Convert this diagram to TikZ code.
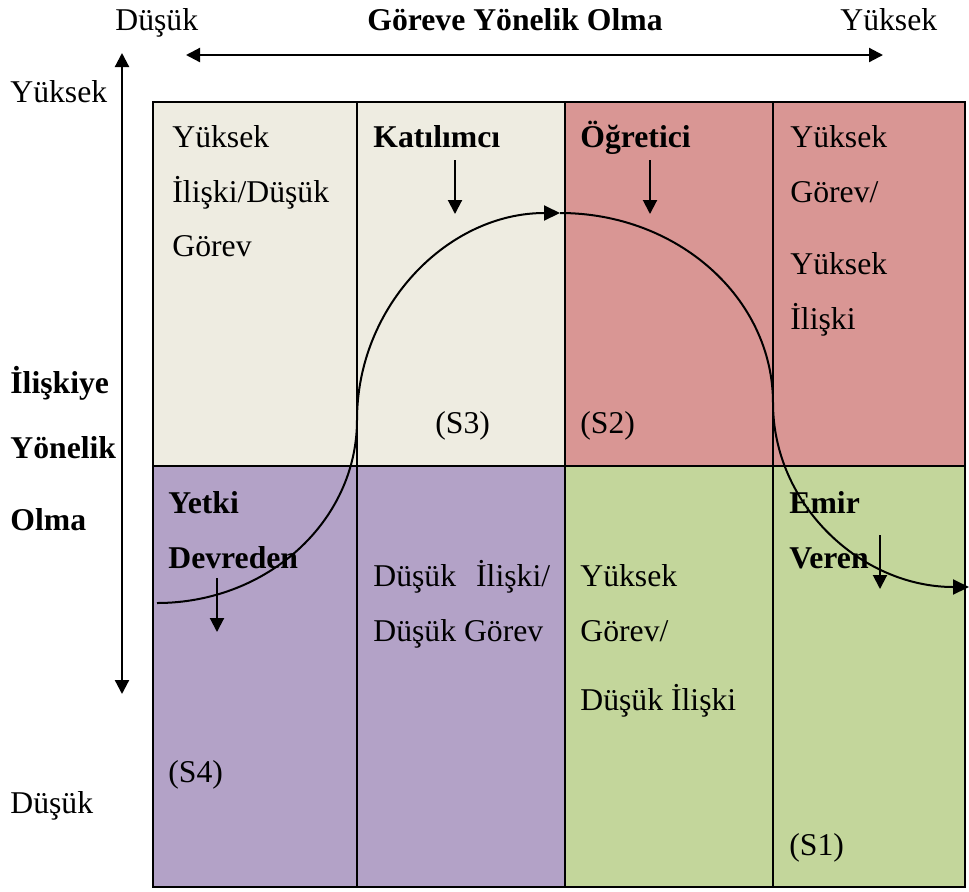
\documentclass[tikz,border=0pt]{standalone}
\usepackage{fontspec}
\setmainfont{Liberation Serif}
\usetikzlibrary{arrows.meta}
\definecolor{cellbeige}{HTML}{EEECE1}
\definecolor{cellred}{HTML}{D99694}
\definecolor{cellpurple}{HTML}{B3A2C7}
\definecolor{cellgreen}{HTML}{C3D69B}
\begin{document}
\begin{tikzpicture}[x=0.5pt,y=-0.5pt,
  txt/.style={anchor=base west,inner sep=0pt,font=\fontsize{15.85}{19}\selectfont},
  btxt/.style={anchor=base west,inner sep=0pt,font=\fontsize{15.85}{19}\selectfont\bfseries},
  ctxt/.style={anchor=base,inner sep=0pt,font=\fontsize{15.85}{19}\selectfont\bfseries},
  gridline/.style={line width=0.9pt},
  frameline/.style={line width=1.3pt},
  pointer/.style={line width=1pt,-{Triangle[length=7pt,width=7pt]}},
  axis/.style={line width=1.1pt,{Triangle[length=7pt,width=7pt]}-{Triangle[length=7pt,width=7pt]}},
  flow/.style={line width=1pt}]
\useasboundingbox (0,0) rectangle (969,891);

% quadrant fills
\fill[cellbeige]  (153,102) rectangle (565,466);
\fill[cellred]    (565,102) rectangle (965,466);
\fill[cellpurple] (153,466) rectangle (565,887);
\fill[cellgreen]  (565,466) rectangle (965,887);

% grid
\draw[gridline] (357,102) -- (357,887);
\draw[gridline] (565,102) -- (565,887);
\draw[gridline] (773,102) -- (773,887);
\draw[gridline] (153,466) -- (965,466);
\draw[frameline] (153,102) rectangle (965,887);

% axes
\coordinate (hL) at (186,55);
\coordinate (hR) at (883,55);
\draw[axis] (hL) -- (hR);
\coordinate (vT) at (122,53);
\coordinate (vB) at (122,694);
\draw[axis] (vT) -- (vB);

% axis labels
\node[txt]  (xlow)  at (115,30) {Düşük};
\node[ctxt] (xname) at (515,30) {Göreve Yönelik Olma};
\node[txt]  (xhigh) at (840,30) {Yüksek};
\node[txt]  (yhigh) at (10,102) {Yüksek};
\node[btxt] (yname1) at (10,393) {İlişkiye};
\node[btxt] (yname2) at (10,458) {Yönelik};
\node[btxt] (yname3) at (10,530) {Olma};
\node[txt]  (ylow)  at (10,813) {Düşük};

% top-left cell
\node[txt] (tl1) at (172,147) {Yüksek};
\node[txt] (tl2) at (172,202) {İlişki/Düşük};
\node[txt] (tl3) at (172,256) {Görev};

% participating style
\node[btxt] (kat) at (373,147) {Katılımcı};
\coordinate (katA) at (455,160);
\coordinate (katB) at (455,214);
\draw[pointer] (katA) -- (katB);
\node[txt] (s3) at (435,433) {(S3)};

% teaching style
\node[btxt] (ogr) at (580,147) {Öğretici};
\coordinate (ogrA) at (650,160);
\coordinate (ogrB) at (650,214);
\draw[pointer] (ogrA) -- (ogrB);
\node[txt] (s2) at (580,433) {(S2)};

% top-right cell
\node[txt] (tr1) at (790,147) {Yüksek};
\node[txt] (tr2) at (790,202) {Görev/};
\node[txt] (tr3) at (790,274) {Yüksek};
\node[txt] (tr4) at (790,329) {İlişki};

% delegating style
\node[btxt] (yet1) at (168,513) {Yetki};
\node[btxt] (yet2) at (168,568) {Devreden};
\coordinate (yetA) at (217,578);
\coordinate (yetB) at (217,632);
\draw[pointer] (yetA) -- (yetB);
\node[txt] (s4) at (168,782) {(S4)};

% low-low cell
\node[txt] (ll1) at (373,586) {Düşük\hspace{10pt}İlişki/};
\node[txt] (ll2) at (373,641) {Düşük Görev};

% high task / low relation cell
\node[txt] (hl1) at (580,586) {Yüksek};
\node[txt] (hl2) at (580,641) {Görev/};
\node[txt] (hl3) at (580,710) {Düşük İlişki};

% telling style
\node[btxt] (emr1) at (789,513) {Emir};
\node[btxt] (emr2) at (789,568) {Veren};
\coordinate (emrA) at (880,535);
\coordinate (emrB) at (880,589);
\draw[pointer] (emrA) -- (emrB);
\node[txt] (s1) at (789,855) {(S1)};

% life-cycle curve
\coordinate (cStart) at (157,603);
\coordinate (cTop)   at (560,213);
\draw[flow,-{Triangle[length=8pt,width=7.5pt]}] (cStart)
  arc[start angle=270,end angle=360,x radius=200,y radius=-183]
  arc[start angle=180,end angle=90,x radius=203,y radius=-207];
\draw[flow,-{Triangle[length=8pt,width=7.5pt]}] (cTop)
  arc[start angle=90,end angle=0,x radius=213,y radius=-190]
  arc[start angle=180,end angle=270,x radius=196,y radius=-184];
\end{tikzpicture}
\end{document}
